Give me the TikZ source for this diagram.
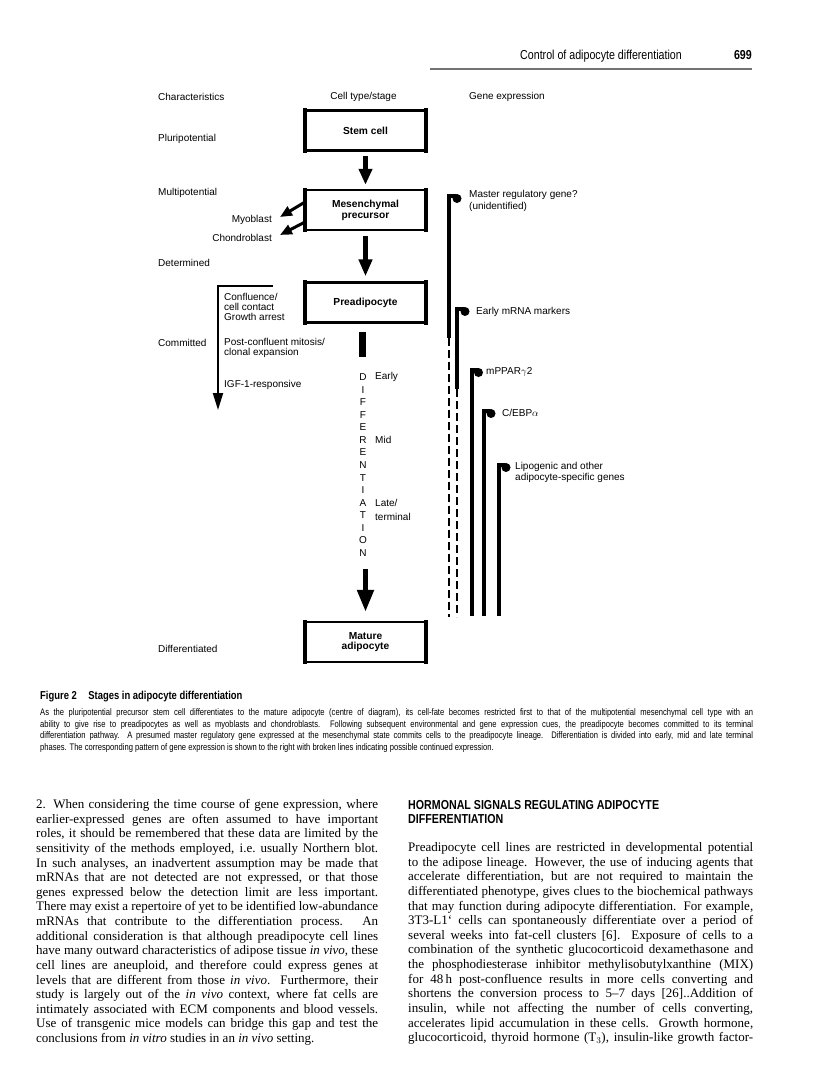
\documentclass[tikz,border=0pt]{standalone}
\usepackage{fontspec}
\setmainfont{Liberation Serif}
\setsansfont{Liberation Sans}
\newfontfamily\condfont[FakeStretch=0.82]{Liberation Sans}
\newfontfamily\capfont[FakeStretch=0.80]{Liberation Sans}
\usetikzlibrary{arrows.meta,positioning}
\newlength\colw
\newlength\capw
\setlength\colw{342pt}
\setlength\capw{713pt}
\newcommand\jline[2]{\makebox[#1][s]{#2}}

\begin{document}
\begin{tikzpicture}[x=1pt, y=-1pt,
  lab/.style={font=\fontsize{10}{10.5}\selectfont\sffamily, inner sep=0pt, align=left},
  stage/.style={draw, line width=2.4pt, minimum width=118.6pt, minimum height=40pt,
    inner sep=0pt, align=center, font=\fontsize{10.2}{10.8}\selectfont\sffamily\bfseries},
  fat/.style={line width=5pt, -{Triangle[width=13pt,length=16pt]}},
  side/.style={line width=3pt, -{Triangle[width=10pt,length=12pt]}},
  gene/.style={line width=4pt},
  maybe/.style={line width=2.4pt, dash pattern=on 8pt off 4pt},
  body/.style={font=\fontsize{13}{14.6}\selectfont, inner sep=0pt, anchor=base west},
  capline/.style={font=\capfont\fontsize{9.5}{11.7}\selectfont, inner sep=0pt, anchor=base west},
  head/.style={font=\condfont\bfseries\fontsize{13}{14}\selectfont, inner sep=0pt, anchor=base west}
]
\fill[white] (0,0) rectangle (816,1089);
\useasboundingbox (0,0) rectangle (816,1089);

% running head
\node[font=\condfont\fontsize{13}{14}\selectfont, inner sep=0pt, anchor=base east] (runhead) at (682,59.5) {Control of adipocyte differentiation};
\node[head, anchor=base east] (folio) at (752,59.5) {699};
\draw[line width=2.5pt, black!55] (430,69) -- (752,69);

% column titles
\node[lab, anchor=west] (hchar) at (158,97) {Characteristics};
\node[lab] (htype) at (363.5,97) {Cell type/stage};
\node[lab, anchor=west] (hgene) at (469,97) {Gene expression};

% characteristics
\node[lab, anchor=west] (pluri) at (158,139) {Pluripotential};
\node[lab, anchor=west] (multi) at (158,193) {Multipotential};
\node[lab, anchor=west] (deter) at (158,263) {Determined};
\node[lab, anchor=west] (commit) at (158,343) {Committed};
\node[lab, anchor=west] (diffd) at (158,649) {Differentiated};

% cell stages
\node[stage] (stem) at (365.5,130.5) {Stem cell};
\node[stage] (mes) at (365.5,210) {Mesenchymal\\precursor};
\node[stage] (pre) at (365.5,302.5) {Preadipocyte};
\node[stage] (mature) at (365.5,642) {Mature\\adipocyte};
\foreach \n in {stem,mes,pre,mature} {
  \draw[line width=4.4pt, shorten <=-1.2pt, shorten >=-1.2pt] (\n.north west) -- (\n.south west);
  \draw[line width=4.4pt, shorten <=-1.2pt, shorten >=-1.2pt] (\n.north east) -- (\n.south east);
}

\draw[fat, shorten <=4pt, shorten >=4pt] (stem) -- (mes);
\draw[fat, -{Triangle[width=13pt,length=17pt]}, shorten <=5pt, shorten >=5pt] (mes) -- (pre);

% side lineages
\coordinate (myo) at (280,217);
\coordinate (chon) at (280,235);
\draw[side] ([yshift=8pt]mes.west) -- (myo);
\draw[side] ([yshift=-12pt]mes.west) -- (chon);
\node[lab, anchor=east] (myolab) at (272,220) {Myoblast};
\node[lab, anchor=east] (chonlab) at (272,238) {Chondroblast};

% committed phase
\coordinate (cb0) at (273,286);
\coordinate (cb1) at (218,286);
\coordinate (cb2) at (218,410);
\draw[line width=2pt, -{Triangle[width=10pt,length=17pt]}] (cb0) -- (cb1) -- (cb2);
\node[lab, anchor=west, font=\fontsize{10}{10}\selectfont\sffamily] (conf) at (224,307) {Confluence/\\cell contact\\Growth arrest};
\node[lab, anchor=west, font=\fontsize{10}{10}\selectfont\sffamily] (post) at (224,348) {Post-confluent mitosis/\\clonal expansion};
\node[lab, anchor=west] (igf) at (224,385) {IGF-1-responsive};

% differentiation
\draw[line width=7pt] (362.5,332) -- (362.5,357);
\foreach \ch [count=\i from 0] in {D,I,F,F,E,R,E,N,T,I,A,T,I,O,N}
  \node[lab] (dl\i) at (363,377+12.57*\i) {\ch};
\node[lab, anchor=west] (early) at (375,377) {Early};
\node[lab, anchor=west] (mid) at (375,440) {Mid};
\node[lab, anchor=west, font=\fontsize{10}{13.5}\selectfont\sffamily] (late) at (375,510) {Late/\\terminal};
\coordinate (dend) at (365.5,569);
\draw[fat, -{Triangle[width=16pt,length=22pt]}, shorten >=9pt] (dend) -- (dend |- mature.north);

% gene expression
\foreach \gx/\gt/\gs in {449/194/338, 457/307/389} {
  \draw[gene] (\gx,\gt) -- (\gx,\gs);
  \draw[maybe] (\gx,\gs) -- (\gx,617);
  \draw[gene] (\gx-2,\gt+2) -- (\gx+7,\gt+2);
  \fill (\gx+8,\gt+4.5) circle (4.5);
}
\foreach \gx/\gt in {471.5/368, 484/409, 499/463} {
  \draw[gene] (\gx,\gt) -- (\gx,616);
  \draw[gene] (\gx-2,\gt+2) -- (\gx+6,\gt+2);
  \fill (\gx+7,\gt+4.5) circle (4.5);
}
\node[lab, anchor=west, font=\fontsize{10}{12}\selectfont\sffamily] (gmaster) at (469,201) {Master regulatory gene?\\(unidentified)};
\node[lab, anchor=west] (gearly) at (476,312) {Early mRNA markers};
\node[lab, anchor=west] (gppar) at (486,372) {mPPAR$\gamma$2};
\node[lab, anchor=west] (gcebp) at (502,413) {C/EBP$\alpha$};
\node[lab, anchor=west] (glipo) at (515,472.5) {Lipogenic and other\\adipocyte-specific genes};

% caption
\node[head, font=\condfont\bfseries\fontsize{11.5}{12}\selectfont] (figcap) at (40,699) {Figure 2\quad Stages in adipocyte differentiation};
\foreach \t [count=\i from 0] in {
  {As the pluripotential precursor stem cell differentiates to the mature adipocyte (centre of diagram), its cell-fate becomes restricted first to that of the multipotential mesenchymal cell type with an},
  {ability to give rise to preadipocytes as well as myoblasts and chondroblasts. Following subsequent environmental and gene expression cues, the preadipocyte becomes committed to its terminal},
  {differentiation pathway. A presumed master regulatory gene expressed at the mesenchymal state commits cells to the preadipocyte lineage. Differentiation is divided into early, mid and late terminal}}
  \node[capline] (cap\i) at (40,715.5+11.7*\i) {\jline{\capw}{\t}};
\node[capline] (cap3) at (40,715.5+11.7*3) {phases. The corresponding pattern of gene expression is shown to the right with broken lines indicating possible continued expression.};

% left column
\foreach \t [count=\i from 0] in {
  {2. When considering the time course of gene expression, where},
  {earlier-expressed genes are often assumed to have important},
  {roles, it should be remembered that these data are limited by the},
  {sensitivity of the methods employed, i.e.\ usually Northern blot.},
  {In such analyses, an inadvertent assumption may be made that},
  {mRNAs that are not detected are not expressed, or that those},
  {genes expressed below the detection limit are less important.},
  {There may exist a repertoire of yet to be identified low-abundance},
  {mRNAs that contribute to the differentiation process. An},
  {additional consideration is that although preadipocyte cell lines},
  {have many outward characteristics of adipose tissue \emph{in vivo}, these},
  {cell lines are aneuploid, and therefore could express genes at},
  {levels that are different from those \emph{in vivo}. Furthermore, their},
  {study is largely out of the \emph{in vivo} context, where fat cells are},
  {intimately associated with ECM components and blood vessels.},
  {Use of transgenic mice models can bridge this gap and test the}}
  \node[body] (lc\i) at (36,808.5+14.63*\i) {\jline{\colw}{\t}};
\node[body] (lc16) at (36,808.5+14.63*16) {conclusions from \emph{in vitro} studies in an \emph{in vivo} setting.};

% right column
\node[head] (sec1) at (408,809.5) {HORMONAL SIGNALS REGULATING ADIPOCYTE};
\node[head] (sec2) at (408,823.5) {DIFFERENTIATION};
\foreach \t [count=\i from 0] in {
  {Preadipocyte cell lines are restricted in developmental potential},
  {to the adipose lineage. However, the use of inducing agents that},
  {accelerate differentiation, but are not required to maintain the},
  {differentiated phenotype, gives clues to the biochemical pathways},
  {that may function during adipocyte differentiation. For example,},
  {3T3-L1` cells can spontaneously differentiate over a period of},
  {several weeks into fat-cell clusters [6]. Exposure of cells to a},
  {combination of the synthetic glucocorticoid dexamethasone and},
  {the phosphodiesterase inhibitor methylisobutylxanthine (MIX)},
  {for 48\,h post-confluence results in more cells converting and},
  {shortens the conversion process to 5--7 days [26]..Addition of},
  {insulin, while not affecting the number of cells converting,},
  {accelerates lipid accumulation in these cells. Growth hormone,},
  {glucocorticoid, thyroid hormone (T$_3$), insulin-like growth factor-}}
  \node[body] (rc\i) at (408,851.5+14.63*\i) {\jline{345pt}{\t}};
\end{tikzpicture}
\end{document}
